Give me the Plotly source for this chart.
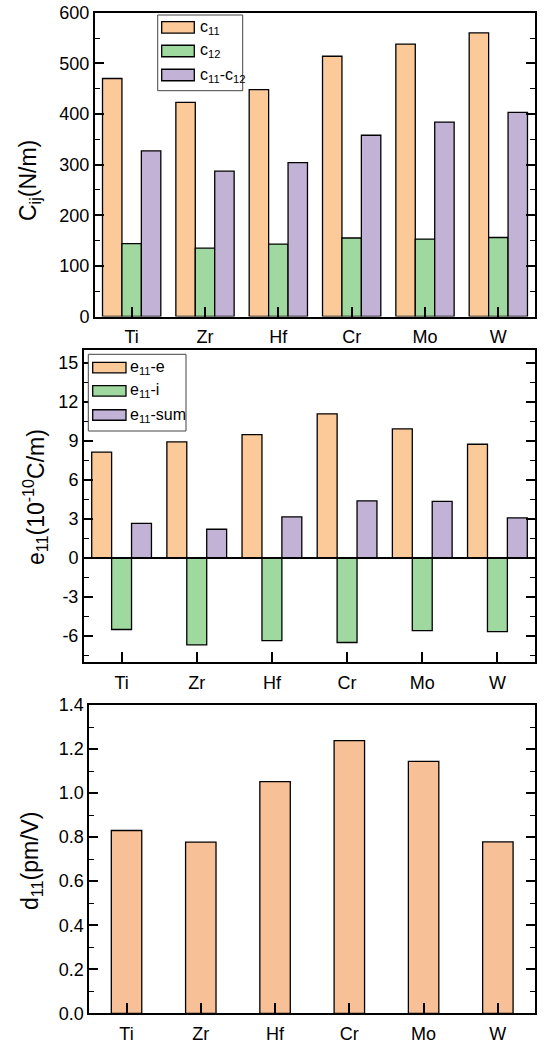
import plotly.graph_objects as go

# ---------------- data ----------------
categories = ["Ti", "Zr", "Hf", "Cr", "Mo", "W"]

c11 = [470, 423, 448, 514, 538, 560]
c12 = [144, 135, 143, 155, 153, 156]
c11_minus_c12 = [327, 287, 304, 358, 384, 403]

e11_e = [8.15, 8.93, 9.49, 11.09, 9.93, 8.75]
e11_i = [-5.50, -6.68, -6.35, -6.50, -5.58, -5.66]
e11_sum = [2.66, 2.21, 3.16, 4.40, 4.35, 3.09]

d11 = [0.830, 0.777, 1.052, 1.238, 1.144, 0.778]

c_names = ["c<sub>11</sub>", "c<sub>12</sub>", "c<sub>11</sub>-c<sub>12</sub>"]
e_names = ["e<sub>11</sub>-e", "e<sub>11</sub>-i", "e<sub>11</sub>-sum"]

e_tickvals = [-6, -3, 0, 3, 6, 9, 12, 15]
e_ticktext = ["-6", "-3", "0", "3", "6", "9", "12", "15"]

# ---------------- style ----------------
W, H = 545, 1044
ORANGE = "#FCCA98"
GREEN = "#A0D9A0"
PURPLE = "#C2B3D6"
ORANGE3 = "#F8C096"
FONT = "Liberation Sans, Arial, sans-serif"


def px(x):
    return x / W


def py(y):
    return 1 - y / H


fig = go.Figure()

line = dict(color="black", width=1.3)
for vals, name, col in zip([c11, c12, c11_minus_c12], c_names, [ORANGE, GREEN, PURPLE]):
    fig.add_trace(go.Bar(x=categories, y=vals, name=name, marker=dict(color=col, line=line),
                         xaxis="x", yaxis="y", showlegend=False))
for vals, name, col in zip([e11_e, e11_i, e11_sum], e_names, [ORANGE, GREEN, PURPLE]):
    fig.add_trace(go.Bar(x=categories, y=vals, name=name, marker=dict(color=col, line=line),
                         xaxis="x2", yaxis="y2", showlegend=False))
fig.add_trace(go.Bar(x=categories, y=d11, name="d11", marker=dict(color=ORANGE3, line=line),
                     xaxis="x3", yaxis="y3", showlegend=False, width=0.41))

dom = {
    1: dict(x=[px(95), px(535)], y=[py(316.5), py(12.7)]),
    2: dict(x=[px(84), px(535)], y=[py(662), py(350)]),
    3: dict(x=[px(89.4), px(535)], y=[py(1013.3), py(705)]),
}

tickfont = dict(family=FONT, size=18, color="black")


def xax(i):
    return dict(domain=dom[i]["x"], anchor="y" if i == 1 else f"y{i}", type="category",
                range=[-0.5, 5.5], ticks="inside", ticklen=10, tickwidth=1.8, tickcolor="black",
                showline=True, linewidth=2, linecolor="black", mirror=True,
                tickfont=tickfont, showgrid=False, zeroline=False, fixedrange=True,
                ticklabelstandoff=3, automargin=False)


def yax(i, rng, **kw):
    d = dict(domain=dom[i]["y"], anchor="x" if i == 1 else f"x{i}", range=rng,
             ticks="inside", ticklen=9, tickwidth=1.8, tickcolor="black",
             showline=True, linewidth=2, linecolor="black", mirror="allticks",
             tickfont=tickfont, showgrid=False, zeroline=False, automargin=False,
             minor=dict(ticks="inside", ticklen=5, tickwidth=1.3, tickcolor="black", showgrid=False))
    d.update(kw)
    return d


def topax(i):
    return dict(overlaying="x" if i == 1 else f"x{i}", side="top",
                anchor="y" if i == 1 else f"y{i}", range=[-0.5, 5.5], dtick=0.5, tick0=0,
                ticks="inside", ticklen=3, tickwidth=1, tickcolor="black",
                showticklabels=False, showline=False, showgrid=False, zeroline=False,
                automargin=False)


y1 = yax(1, [0, 600], dtick=100, tick0=0)
y1["minor"].update(dtick=50)
y2 = yax(2, [-8, 16], tickmode="array", tickvals=e_tickvals, ticktext=e_ticktext)
y2["minor"].update(tick0=0, dtick=1.5)
y3 = yax(3, [0, 1.4], dtick=0.2, tick0=0, tickformat=".1f")
y3["minor"].update(dtick=0.1)

fig.update_layout(
    width=W, height=H, margin=dict(l=0, r=0, t=0, b=0, autoexpand=False),
    paper_bgcolor="white", plot_bgcolor="white",
    font=dict(family=FONT, color="black"),
    barmode="group", bargap=0.205, bargroupgap=0,
    xaxis=xax(1), xaxis2=xax(2), xaxis3=xax(3),
    yaxis=y1, yaxis2=y2, yaxis3=y3,
    xaxis4=topax(1), xaxis5=topax(2), xaxis6=topax(3),
)

shapes = []
annotations = []

# zero line in panel 2
shapes.append(dict(type="line", xref="x2 domain", yref="y2", x0=0, x1=1, y0=0, y1=0,
                   line=dict(color="black", width=2), layer="above"))


def legend_box(box, sw_x, rows, text_x, names, colors, sh):
    x0, x1, y0, y1 = box
    shapes.append(dict(type="rect", xref="paper", yref="paper", x0=px(x0), x1=px(x1),
                       y0=py(y1), y1=py(y0), line=dict(color="#444444", width=1),
                       fillcolor="white", layer="above"))
    for yc, nm, col in zip(rows, names, colors):
        shapes.append(dict(type="rect", xref="paper", yref="paper", x0=px(sw_x[0]), x1=px(sw_x[1]),
                           y0=py(yc + sh / 2), y1=py(yc - sh / 2),
                           line=dict(color="black", width=1.3), fillcolor=col, layer="above"))
        annotations.append(dict(xref="paper", yref="paper", x=px(text_x), y=py(yc),
                                text=nm, showarrow=False, xanchor="left", yanchor="middle",
                                font=dict(family=FONT, size=16, color="black")))


legend_box((157.7, 242.7, 15, 90.7), (161.7, 194.3), [27.3, 51, 75], 197.5,
           c_names, [ORANGE, GREEN, PURPLE], 11.5)
legend_box((88.3, 186, 354.3, 431), (92.7, 126), [367.7, 390.8, 415], 128,
           e_names, [ORANGE, GREEN, PURPLE], 10.5)

titlefont = dict(family=FONT, size=23, color="black")
annotations.append(dict(xref="paper", yref="paper", x=px(29), y=py(181), textangle=-90,
                        text="C<sub>ij</sub>(N/m)", showarrow=False,
                        xanchor="center", yanchor="middle", font=titlefont))
annotations.append(dict(xref="paper", yref="paper", x=px(35), y=py(497), textangle=-90,
                        text="e<sub>11</sub>(10<sup>-10</sup>C/m)", showarrow=False,
                        xanchor="center", yanchor="middle", font=titlefont))
annotations.append(dict(xref="paper", yref="paper", x=px(31), y=py(861), textangle=-90,
                        text="d<sub>11</sub>(pm/V)", showarrow=False,
                        xanchor="center", yanchor="middle", font=titlefont))

fig.update_layout(shapes=shapes, annotations=annotations)

# remove the browser's default 8px page margin so the figure sits at the window origin
fig.write_html("out.html", config={"displayModeBar": False},
               post_script="document.body.style.margin='0';")
